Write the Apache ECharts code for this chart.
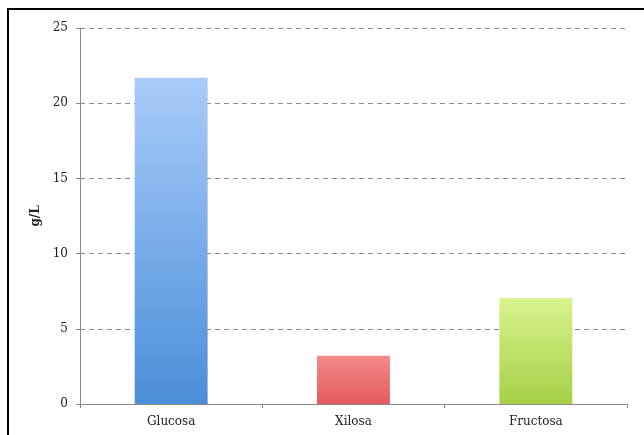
<!DOCTYPE html>
<html>
<head>
<meta charset="utf-8">
<script src="https://cdn.jsdelivr.net/npm/echarts@6/dist/echarts.min.js"></script>
<style>
  html, body { margin: 0; padding: 0; background: #fff; }
  #chart { width: 644px; height: 435px; }
</style>
</head>
<body>
<div id="chart"></div>
<script>
// Sugar concentrations (g/L)
const categories = ['Glucosa', 'Xilosa', 'Fructosa'];
const values = [21.7, 3.2, 7.05];
const yTicks = [0, 5, 10, 15, 20, 25];

// Top/bottom gradient stops per bar
const barColors = [
  ['#a9cbf9', '#4a8ed8'],
  ['#f58a8a', '#e25b5b'],
  ['#d8f28e', '#a6cf45']
];

const chart = echarts.init(document.getElementById('chart'));
const serif = '"DejaVu Serif", "Liberation Serif", serif';

chart.setOption({
  backgroundColor: '#ffffff',
  animation: false,
  graphic: [{
    type: 'rect',
    shape: { x: 8, y: 9, width: 700, height: 500 },
    style: { fill: 'none', stroke: '#000', lineWidth: 2 },
    z: 100
  }],
  grid: { left: 80, right: 17, top: 28, bottom: 31 },
  xAxis: {
    type: 'category',
    data: categories,
    axisLine: { lineStyle: { color: '#8a8a8a', width: 1 } },
    axisTick: { show: true, alignWithLabel: false, length: 4, lineStyle: { color: '#8a8a8a' } },
    axisLabel: { color: '#222', fontFamily: serif, fontSize: 12, margin: 12 }
  },
  yAxis: {
    type: 'value',
    min: yTicks[0],
    max: yTicks[yTicks.length - 1],
    interval: 5,
    name: 'g/L',
    nameLocation: 'middle',
    nameRotate: 90,
    nameGap: 38,
    nameTextStyle: { color: '#222', fontFamily: serif, fontSize: 12, fontWeight: 'bold' },
    axisLine: { show: true, lineStyle: { color: '#8a8a8a', width: 1 } },
    axisTick: { show: true, length: 4, lineStyle: { color: '#8a8a8a' } },
    axisLabel: { color: '#222', fontFamily: serif, fontSize: 12, margin: 12 },
    splitLine: { show: true, lineStyle: { color: '#8c8c8c', type: [5, 4], width: 1 } }
  },
  series: [{
    type: 'bar',
    barWidth: '40%',
    data: values.map((v, i) => ({
      value: v,
      itemStyle: {
        color: new echarts.graphic.LinearGradient(0, 0, 0, 1, [
          { offset: 0, color: barColors[i][0] },
          { offset: 1, color: barColors[i][1] }
        ])
      }
    }))
  }]
});
</script>
</body>
</html>
